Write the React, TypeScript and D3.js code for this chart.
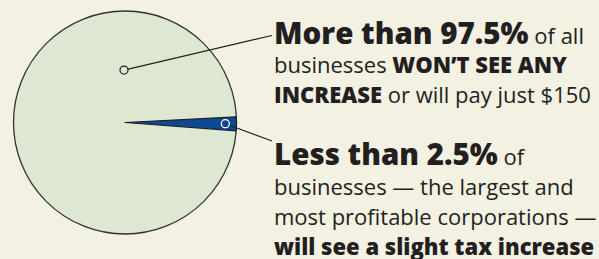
import React, { useEffect, useRef } from 'react'
import * as d3 from 'd3'

// share of businesses (percent)
const sliceNames = ['slight increase', 'no increase']
const sliceValues = [2, 98]
const sliceColors = ['#0b4a92', '#dee7d1']

// callout text, one array per line: [text, style]
const topCallout: [string, string][][] = [
  [['More than 97.5%', 'head'], [' of all', 'plain']],
  [['businesses ', 'plain'], ['WON’T SEE ANY', 'bold']],
  [['INCREASE', 'bold'], [' or will pay just $150', 'plain']]
]
const bottomCallout: [string, string][][] = [
  [['Less than 2.5%', 'head'], [' of', 'plain']],
  [['businesses — the largest and', 'plain']],
  [['most profitable corporations —', 'plain']],
  [['will see a slight tax increase', 'bold']]
]

const App = () => {
  const ref = useRef<SVGSVGElement>(null)

  useEffect(() => {
    const width = 599
    const height = 259
    const cx = 125
    const cy = 122.5
    const r = 111.5
    const ink = '#231f20'

    const svg = d3.select(ref.current)
    svg.selectAll('*').remove()
    svg.attr('width', width).attr('height', height)

    svg.append('rect').attr('width', width).attr('height', height).attr('fill', '#f3f1e2')

    // small slice first, so it starts just above 3 o'clock
    const smallSpan = (sliceValues[0] / d3.sum(sliceValues)) * Math.PI * 2
    const start = Math.PI / 2 + 0.012 - smallSpan / 2
    const pie = d3
      .pie<number>()
      .sort(null)
      .startAngle(start)
      .endAngle(start + Math.PI * 2)
    const arcs = pie(sliceValues)
    const arc = d3.arc<d3.PieArcDatum<number>>().innerRadius(0).outerRadius(r)

    const g = svg.append('g').attr('transform', `translate(${cx},${cy})`)
    // big slice underneath, then outline, then the wedge on top
    g.append('path')
      .datum(arcs[1])
      .attr('d', arc)
      .attr('fill', sliceColors[1])
    g.append('circle').attr('r', r).attr('fill', 'none').attr('stroke', '#333').attr('stroke-width', 1.3)
    g.append('path')
      .datum(arcs[0])
      .attr('d', arc)
      .attr('fill', sliceColors[0])
      .attr('stroke', ink)
      .attr('stroke-width', 1.2)
      .attr('stroke-linejoin', 'round')
      .attr('data-name', sliceNames[0])

    // marker points on each slice + leader lines
    const smallMid = (arcs[0].startAngle + arcs[0].endAngle) / 2
    const bigPt: [number, number] = [cx - 1, cy - 0.47 * r]
    const smallPt: [number, number] = [cx + 0.9 * r * Math.sin(smallMid), cy - 0.9 * r * Math.cos(smallMid)]

    svg.append('line')
      .attr('x1', bigPt[0]).attr('y1', bigPt[1])
      .attr('x2', 272).attr('y2', 35.5)
      .attr('stroke', ink).attr('stroke-width', 1.2)
    svg.append('line')
      .attr('x1', smallPt[0]).attr('y1', smallPt[1])
      .attr('x2', 272).attr('y2', 141)
      .attr('stroke', ink).attr('stroke-width', 1.2)

    svg.append('circle')
      .attr('cx', bigPt[0]).attr('cy', bigPt[1]).attr('r', 4)
      .attr('fill', sliceColors[1]).attr('stroke', ink).attr('stroke-width', 1.2)
    svg.append('circle')
      .attr('cx', smallPt[0]).attr('cy', smallPt[1]).attr('r', 4)
      .attr('fill', sliceColors[0]).attr('stroke', '#fff').attr('stroke-width', 1.3)

    // callout text
    const styles: Record<string, { size: number; weight: number }> = {
      head: { size: 29.5, weight: 800 },
      bold: { size: 22, weight: 800 },
      plain: { size: 22, weight: 400 }
    }
    const drawBlock = (lines: [string, string][][], baselines: number[]) => {
      lines.forEach((line, i) => {
        const t = svg.append('text')
          .attr('x', 274)
          .attr('y', baselines[i])
          .attr('fill', ink)
          .style('font-family', '"Open Sans", Lato, sans-serif')
        line.forEach(([txt, s]) => {
          t.append('tspan')
            .attr('font-size', styles[s].size)
            .attr('font-weight', styles[s].weight)
            .text(txt)
        })
      })
    }
    drawBlock(topCallout, [43.5, 73, 102.5])
    drawBlock(bottomCallout, [164.5, 194.5, 224.5, 254.5])
  }, [])

  return <svg ref={ref} style={{ position: 'absolute', left: 0, top: 0 }} />
}

export default App
